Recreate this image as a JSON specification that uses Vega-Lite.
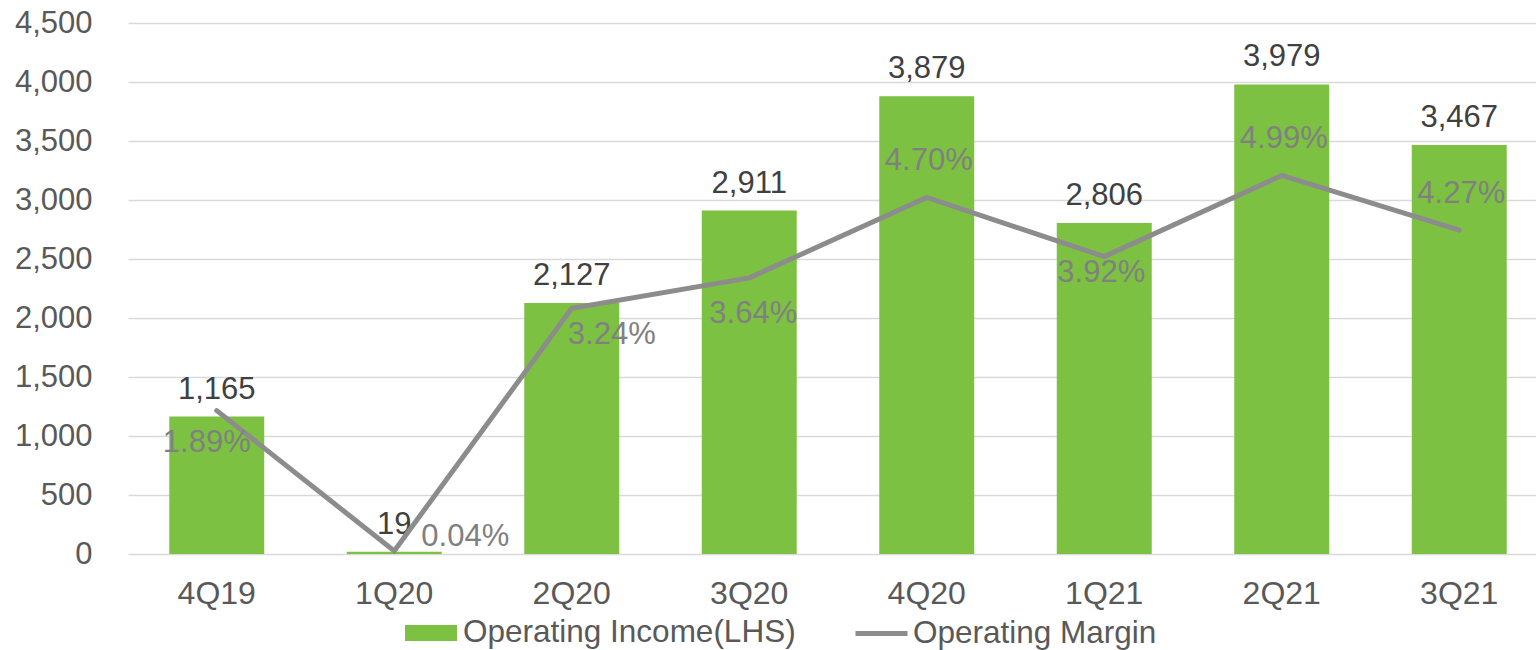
{
  "$schema": "https://vega.github.io/schema/vega-lite/v6.json",
  "autosize": {"type": "none"},
  "padding": {"left": 128, "top": 23, "right": 0, "bottom": 96},
  "width": 1408,
  "height": 531,
  "background": "white",
  "config": {
    "view": {"stroke": null},
    "font": "Liberation Sans",
    "legend": {"padding": 0}
  },
  "data": {
    "values": [
      {"quarter": "4Q19", "income": 1165, "margin": 0.0189},
      {"quarter": "1Q20", "income": 19, "margin": 0.0004},
      {"quarter": "2Q20", "income": 2127, "margin": 0.0324},
      {"quarter": "3Q20", "income": 2911, "margin": 0.0364},
      {"quarter": "4Q20", "income": 3879, "margin": 0.0470},
      {"quarter": "1Q21", "income": 2806, "margin": 0.0392},
      {"quarter": "2Q21", "income": 3979, "margin": 0.0499},
      {"quarter": "3Q21", "income": 3467, "margin": 0.0427}
    ]
  },
  "encoding": {
    "x": {
      "field": "quarter",
      "type": "ordinal",
      "sort": null,
      "scale": {"range": [0, 1420], "paddingInner": 0.465, "paddingOuter": 0.2325},
      "axis": {
        "title": null,
        "domain": false,
        "ticks": false,
        "labelAngle": 0,
        "labelFontSize": 32,
        "labelColor": "#595959",
        "labelPadding": 24
      }
    }
  },
  "layer": [
    {
      "encoding": {
        "y": {
          "field": "income",
          "type": "quantitative",
          "scale": {"domain": [0, 4500], "nice": false},
          "axis": {
            "title": null,
            "values": [0, 500, 1000, 1500, 2000, 2500, 3000, 3500, 4000, 4500],
            "format": ",d",
            "domain": false,
            "ticks": false,
            "gridColor": "#D9D9D9",
            "gridWidth": 1.3,
            "labelFontSize": 31,
            "labelColor": "#595959",
            "labelPadding": 36
          }
        }
      },
      "layer": [
        {
          "mark": {"type": "bar"},
          "encoding": {
            "fill": {
              "datum": "Operating Income(LHS)",
              "type": "nominal",
              "scale": {"range": ["#7DC142"]},
              "legend": {
                "title": null,
                "orient": "none",
                "legendX": 277,
                "legendY": 584,
                "symbolType": "M-1,-0.31H1V0.31H-1Z",
                "symbolSize": 2704,
                "symbolStrokeWidth": 0,
                "labelOffset": 6,
                "labelLimit": 0,
                "labelFontSize": 31.5,
                "labelColor": "#595959"
              }
            }
          }
        },
        {
          "mark": {"type": "text", "fontSize": 31, "color": "#404040", "baseline": "alphabetic", "dy": -18},
          "encoding": {
            "text": {"field": "income", "type": "quantitative", "format": ","}
          }
        }
      ]
    },
    {
      "encoding": {
        "y": {
          "field": "margin",
          "type": "quantitative",
          "scale": {"domain": [0, 0.07], "nice": false},
          "axis": null
        }
      },
      "layer": [
        {
          "mark": {"type": "line", "strokeWidth": 5, "strokeCap": "round", "strokeJoin": "miter"},
          "encoding": {
            "stroke": {
              "datum": "Operating Margin",
              "type": "nominal",
              "scale": {"range": ["#8C8C8C"]},
              "legend": {
                "title": null,
                "orient": "none",
                "legendX": 725,
                "legendY": 582,
                "symbolType": "stroke",
                "symbolSize": 2704,
                "symbolStrokeWidth": 5,
                "labelOffset": 3,
                "labelLimit": 0,
                "labelFontSize": 31.5,
                "labelColor": "#595959"
              }
            }
          }
        },
        {
          "transform": [{"filter": {"field": "quarter", "equal": "4Q19"}}],
          "mark": {"type": "text", "fontSize": 31, "color": "#808080", "dx": -10, "dy": 32},
          "encoding": {"text": {"field": "margin", "type": "quantitative", "format": ".2%"}}
        },
        {
          "transform": [{"filter": {"field": "quarter", "equal": "1Q20"}}],
          "mark": {"type": "text", "fontSize": 31, "color": "#808080", "dx": 71, "dy": -14},
          "encoding": {"text": {"field": "margin", "type": "quantitative", "format": ".2%"}}
        },
        {
          "transform": [{"filter": {"field": "quarter", "equal": "2Q20"}}],
          "mark": {"type": "text", "fontSize": 31, "color": "#808080", "dx": 40, "dy": 27},
          "encoding": {"text": {"field": "margin", "type": "quantitative", "format": ".2%"}}
        },
        {
          "transform": [{"filter": {"field": "quarter", "equal": "3Q20"}}],
          "mark": {"type": "text", "fontSize": 31, "color": "#808080", "dx": 4, "dy": 36},
          "encoding": {"text": {"field": "margin", "type": "quantitative", "format": ".2%"}}
        },
        {
          "transform": [{"filter": {"field": "quarter", "oneOf": ["4Q20", "2Q21", "3Q21"]}}],
          "mark": {"type": "text", "fontSize": 31, "color": "#808080", "dx": 2, "dy": -36},
          "encoding": {"text": {"field": "margin", "type": "quantitative", "format": ".2%"}}
        },
        {
          "transform": [{"filter": {"field": "quarter", "equal": "1Q21"}}],
          "mark": {"type": "text", "fontSize": 31, "color": "#808080", "dx": -3, "dy": 16},
          "encoding": {"text": {"field": "margin", "type": "quantitative", "format": ".2%"}}
        }
      ]
    }
  ],
  "resolve": {"scale": {"y": "independent"}}
}
